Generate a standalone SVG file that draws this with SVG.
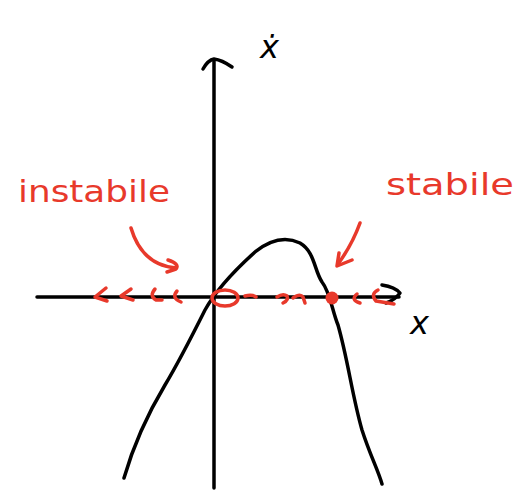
<svg xmlns="http://www.w3.org/2000/svg" width="521" height="493" viewBox="0 0 521 493">
<style>
.ink{fill:none;stroke:#000;stroke-width:3.5;stroke-linecap:round;stroke-linejoin:round}
.red{fill:none;stroke:#e8392b;stroke-width:3.5;stroke-linecap:round;stroke-linejoin:round}
.rtxt{fill:#e8392b;font-family:"DejaVu Sans",sans-serif;font-size:30px}
.btxt{fill:#000;font-family:"DejaVu Sans",sans-serif;font-size:32px;font-style:italic}
</style>
<rect width="521" height="493" fill="#fff"/>
<g id="axes">
<path class="ink" d="M214,488 L214,60"/>
<path class="ink" d="M203,69 Q208,60 214,59 Q222,60 232,67"/>
<path class="ink" d="M37,297 L399,297"/>
<path class="ink" d="M382,285 Q395,287 400,293 Q395,300 386,303"/>
</g>
<g id="labels">
<text class="btxt" x="260" y="58">ẋ</text>
<text class="btxt" x="410" y="334">x</text>
<text id="instabile" class="rtxt" x="18" y="202" textLength="152" lengthAdjust="spacingAndGlyphs">instabile</text>
<text id="stabile" class="rtxt" x="386" y="195" textLength="128" lengthAdjust="spacingAndGlyphs">stabile</text>
</g>
<g id="curve">
<path class="ink" d="M124,478 C135,440 150,410 165,385 C180,360 195,330 205,310 C215,292 235,270 255,252 C270,240 285,236 300,243 C315,252 314,270 322,282 C330,292 332,310 338,325 C348,360 352,395 362,430 C370,455 378,470 382,484"/>
</g>
<g id="flow">
<path class="red" d="M106,288 L95,297 L107,301"/>
<path class="red" d="M131,289 L121,296 L133,300"/>
<path class="red" d="M155,289 Q149,296 156,300 L162,300"/>
<path class="red" d="M177,291 Q171,298 181,302"/>
<path class="red" d="M245,296 Q252,294 256,297"/>
<path class="red" d="M277,297 Q283,293 287,296 Q289,300 283,303"/>
<path class="red" d="M293,298 Q300,293 303,297 L305,303"/>
<path class="red" d="M357,294 Q350,300 360,303"/>
<path class="red" d="M378,290 Q370,294 376,301 L394,304"/>
</g>
<g id="equilibrium-unstable">
<ellipse class="red" cx="225" cy="298" rx="13" ry="8"/>
</g>
<g id="equilibrium-stable">
<circle cx="332" cy="298" r="6.5" fill="#e8392b"/>
</g>
<g id="connectors">
<path class="red" d="M131,228 Q142,265 176,268"/>
<path class="red" d="M168,260 Q180,264 176,269 L167,272"/>
<path class="red" d="M360,223 Q352,245 338,264"/>
<path class="red" d="M339,253 L337,266 L352,260"/>
</g>
</svg>
